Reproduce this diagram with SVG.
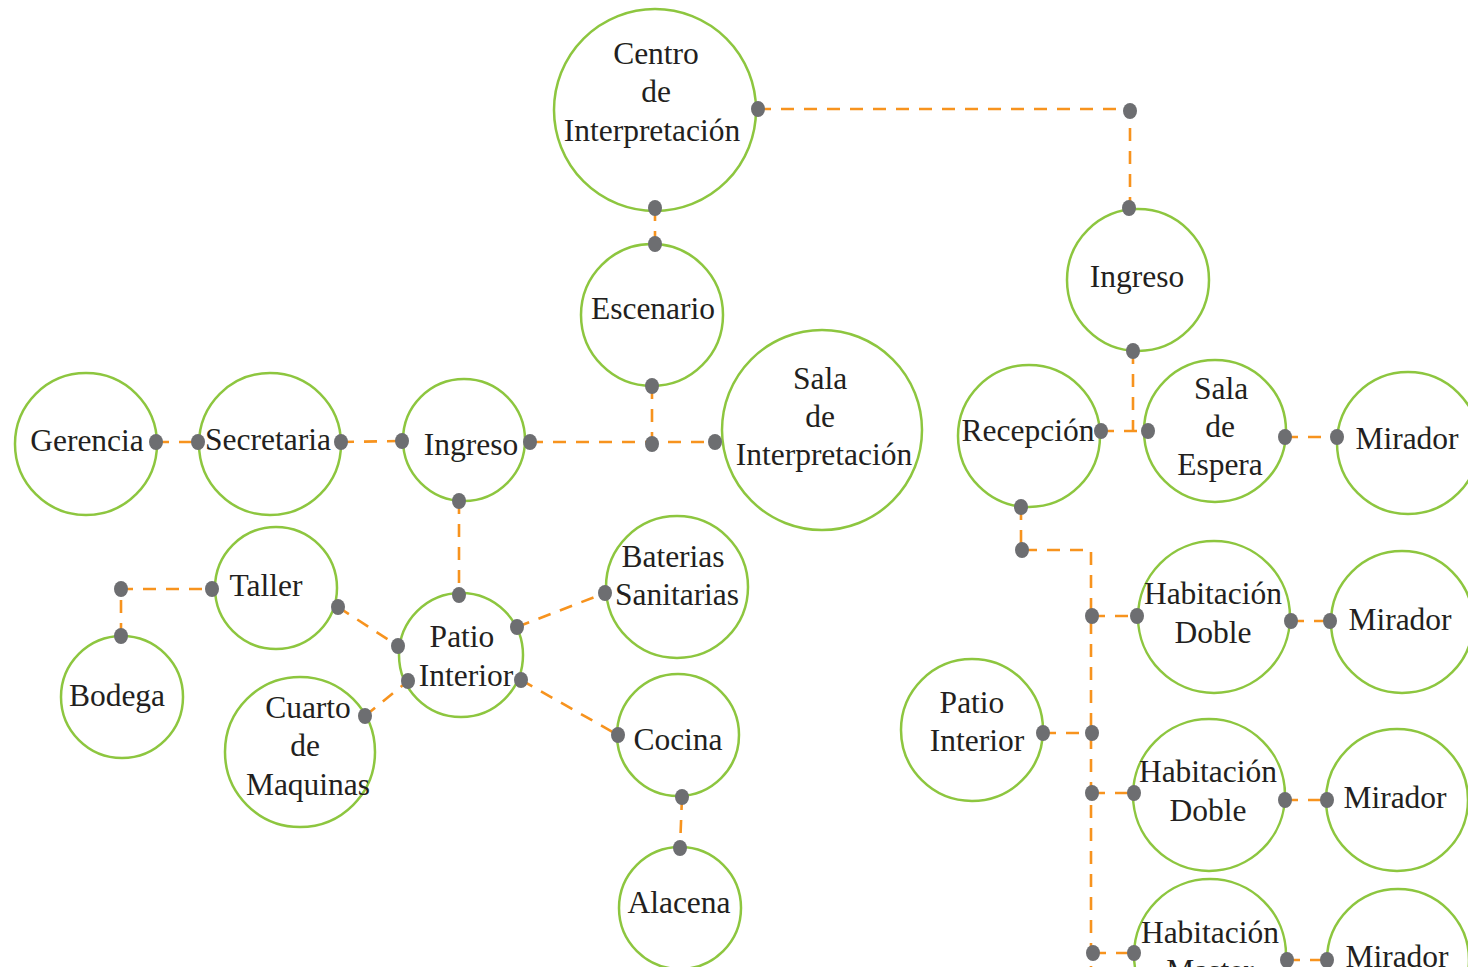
<svg xmlns="http://www.w3.org/2000/svg" width="1468" height="967" viewBox="0 0 1468 967">
<style>
.n{fill:#fff;stroke:#8dc63f;stroke-width:2.5}
.t{font-family:"Liberation Serif","Times New Roman",serif;font-size:31.5px;fill:#231f20;text-anchor:middle}
.c{fill:none;stroke:#f7931e;stroke-width:2.6;stroke-dasharray:13 10}
.d{fill:#6d6e71}
</style>
<rect width="1468" height="967" fill="#fff"/>
<g id="nodes">
<g id="centro"><circle class="n" cx="655" cy="110" r="101"/><text class="t"><tspan x="656" y="64">Centro</tspan><tspan x="656" y="102">de</tspan><tspan x="652" y="141">Interpretación</tspan></text></g>
<g id="escenario"><circle class="n" cx="652" cy="315" r="71"/><text class="t" x="653" y="319">Escenario</text></g>
<g id="sala-interp"><circle class="n" cx="822" cy="430" r="100"/><text class="t"><tspan x="820" y="389">Sala</tspan><tspan x="820" y="427">de</tspan><tspan x="824" y="465">Interpretación</tspan></text></g>
<g id="ingreso-r"><circle class="n" cx="1138" cy="280" r="71"/><text class="t" x="1137" y="287">Ingreso</text></g>
<g id="gerencia"><circle class="n" cx="86" cy="444" r="71"/><text class="t" x="87" y="451">Gerencia</text></g>
<g id="secretaria"><circle class="n" cx="270" cy="444" r="71"/><text class="t" x="268" y="450">Secretaria</text></g>
<g id="ingreso-l"><circle class="n" cx="464" cy="440" r="61"/><text class="t" x="471" y="455">Ingreso</text></g>
<g id="taller"><circle class="n" cx="276" cy="588" r="61"/><text class="t" x="266" y="596">Taller</text></g>
<g id="bodega"><circle class="n" cx="122" cy="697" r="61"/><text class="t" x="117" y="706">Bodega</text></g>
<g id="patio-l"><circle class="n" cx="461" cy="655" r="62"/><text class="t"><tspan x="462" y="647">Patio</tspan><tspan x="466" y="686">Interior</tspan></text></g>
<g id="cuarto"><circle class="n" cx="300" cy="752" r="75"/><text class="t"><tspan x="308" y="718">Cuarto</tspan><tspan x="305" y="756">de</tspan><tspan x="308" y="795">Maquinas</tspan></text></g>
<g id="baterias"><circle class="n" cx="677" cy="587" r="71"/><text class="t"><tspan x="673" y="567">Baterias</tspan><tspan x="677" y="605">Sanitarias</tspan></text></g>
<g id="cocina"><circle class="n" cx="678" cy="735" r="61"/><text class="t" x="678" y="750">Cocina</text></g>
<g id="alacena"><circle class="n" cx="680" cy="908" r="61"/><text class="t" x="679" y="913">Alacena</text></g>
<g id="recepcion"><circle class="n" cx="1029" cy="436" r="71"/><text class="t" x="1028" y="441">Recepción</text></g>
<g id="sala-espera"><circle class="n" cx="1215" cy="431" r="71"/><text class="t"><tspan x="1221" y="399">Sala</tspan><tspan x="1220" y="437">de</tspan><tspan x="1220" y="475">Espera</tspan></text></g>
<g id="mirador1"><circle class="n" cx="1408" cy="443" r="71"/><text class="t" x="1407" y="449">Mirador</text></g>
<g id="hab1"><circle class="n" cx="1214" cy="617" r="76"/><text class="t"><tspan x="1213" y="604">Habitación</tspan><tspan x="1213" y="643">Doble</tspan></text></g>
<g id="mirador2"><circle class="n" cx="1402" cy="622" r="71"/><text class="t" x="1400" y="630">Mirador</text></g>
<g id="patio-r"><circle class="n" cx="972" cy="730" r="71"/><text class="t"><tspan x="972" y="713">Patio</tspan><tspan x="977" y="751">Interior</tspan></text></g>
<g id="hab2"><circle class="n" cx="1209" cy="795" r="76"/><text class="t"><tspan x="1208" y="782">Habitación</tspan><tspan x="1208" y="821">Doble</tspan></text></g>
<g id="mirador3"><circle class="n" cx="1397" cy="800" r="71"/><text class="t" x="1395" y="808">Mirador</text></g>
<g id="hab3"><circle class="n" cx="1210" cy="955" r="76"/><text class="t"><tspan x="1210" y="943">Habitación</tspan><tspan x="1210" y="981">Master</tspan></text></g>
<g id="mirador4"><circle class="n" cx="1398" cy="960" r="71"/><text class="t" x="1397" y="967">Mirador</text></g>
</g>
<g id="connectors">
<path class="c" d="M758 109H1130V208"/>
<path class="c" d="M655 208V244"/>
<path class="c" d="M156 442H198"/>
<path class="c" d="M341 442L402 441"/>
<path class="c" d="M530 442H715M652 386V444"/>
<path class="c" d="M459 501V595"/>
<path class="c" d="M121 636V589H212"/>
<path class="c" d="M338 607L398 646"/>
<path class="c" d="M365 716L408 681"/>
<path class="c" d="M517 627L605 593"/>
<path class="c" d="M521 680L618 735"/>
<path class="c" d="M682 797L680 848"/>
<path class="c" d="M1133 351V431M1101 431H1148"/>
<path class="c" d="M1285 437H1337"/>
<path class="c" d="M1021 507V550H1091V967"/>
<path class="c" d="M1092 616H1137M1291 621H1330"/>
<path class="c" d="M1043 733H1092"/>
<path class="c" d="M1092 793H1134M1285 800H1327"/>
<path class="c" d="M1093 953H1134M1287 960H1327"/>
</g>
<g id="dots">
<ellipse class="d" cx="758" cy="109" rx="7" ry="8"/><ellipse class="d" cx="1130" cy="111" rx="7" ry="8"/><ellipse class="d" cx="1129" cy="208" rx="7" ry="8"/>
<ellipse class="d" cx="655" cy="208" rx="7" ry="8"/><ellipse class="d" cx="655" cy="244" rx="7" ry="8"/>
<ellipse class="d" cx="156" cy="442" rx="7" ry="8"/><ellipse class="d" cx="198" cy="442" rx="7" ry="8"/>
<ellipse class="d" cx="341" cy="442" rx="7" ry="8"/><ellipse class="d" cx="402" cy="441" rx="7" ry="8"/>
<ellipse class="d" cx="530" cy="442" rx="7" ry="8"/><ellipse class="d" cx="652" cy="386" rx="7" ry="8"/>
<ellipse class="d" cx="652" cy="444" rx="7" ry="8"/><ellipse class="d" cx="715" cy="442" rx="7" ry="8"/>
<ellipse class="d" cx="459" cy="501" rx="7" ry="8"/><ellipse class="d" cx="459" cy="595" rx="7" ry="8"/>
<ellipse class="d" cx="121" cy="589" rx="7" ry="8"/><ellipse class="d" cx="212" cy="589" rx="7" ry="8"/>
<ellipse class="d" cx="121" cy="636" rx="7" ry="8"/><ellipse class="d" cx="338" cy="607" rx="7" ry="8"/>
<ellipse class="d" cx="398" cy="646" rx="7" ry="8"/><ellipse class="d" cx="517" cy="627" rx="7" ry="8"/>
<ellipse class="d" cx="605" cy="593" rx="7" ry="8"/><ellipse class="d" cx="408" cy="681" rx="7" ry="8"/>
<ellipse class="d" cx="521" cy="680" rx="7" ry="8"/><ellipse class="d" cx="365" cy="716" rx="7" ry="8"/>
<ellipse class="d" cx="618" cy="735" rx="7" ry="8"/><ellipse class="d" cx="682" cy="797" rx="7" ry="8"/>
<ellipse class="d" cx="680" cy="848" rx="7" ry="8"/>
<ellipse class="d" cx="1133" cy="351" rx="7" ry="8"/><ellipse class="d" cx="1101" cy="431" rx="7" ry="8"/>
<ellipse class="d" cx="1148" cy="431" rx="7" ry="8"/><ellipse class="d" cx="1285" cy="437" rx="7" ry="8"/>
<ellipse class="d" cx="1337" cy="437" rx="7" ry="8"/><ellipse class="d" cx="1021" cy="507" rx="7" ry="8"/>
<ellipse class="d" cx="1022" cy="550" rx="7" ry="8"/>
<ellipse class="d" cx="1092" cy="616" rx="7" ry="8"/><ellipse class="d" cx="1137" cy="616" rx="7" ry="8"/>
<ellipse class="d" cx="1291" cy="621" rx="7" ry="8"/><ellipse class="d" cx="1330" cy="621" rx="7" ry="8"/>
<ellipse class="d" cx="1043" cy="733" rx="7" ry="8"/><ellipse class="d" cx="1092" cy="733" rx="7" ry="8"/>
<ellipse class="d" cx="1092" cy="793" rx="7" ry="8"/><ellipse class="d" cx="1134" cy="793" rx="7" ry="8"/>
<ellipse class="d" cx="1285" cy="800" rx="7" ry="8"/><ellipse class="d" cx="1327" cy="800" rx="7" ry="8"/>
<ellipse class="d" cx="1093" cy="953" rx="7" ry="8"/><ellipse class="d" cx="1134" cy="953" rx="7" ry="8"/>
<ellipse class="d" cx="1287" cy="960" rx="7" ry="8"/><ellipse class="d" cx="1327" cy="960" rx="7" ry="8"/>
</g>
</svg>
